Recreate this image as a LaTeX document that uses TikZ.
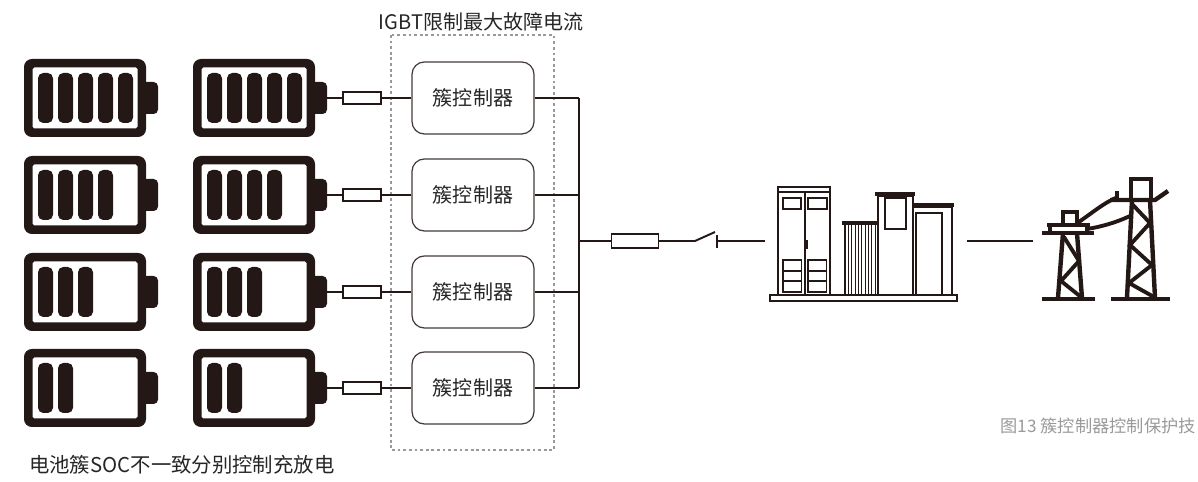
\documentclass[tikz,border=0pt]{standalone}
\usepackage{fontspec}
\setmainfont{Noto Sans CJK SC}
\definecolor{ink}{HTML}{231815}
\definecolor{capgray}{HTML}{9A9A9A}

% one battery: top-left corner x, y and number of filled cells
\newcommand{\drawbatt}[3]{%
  \fill[ink, rounded corners=4.5pt] (#1,#2) rectangle ++(122,78);
  \fill[white, rounded corners=1pt] (#1+8.5,#2+8.5) rectangle ++(105,61);
  \fill[ink, rounded corners=2.5pt] (#1+118,#2+23) rectangle ++(16,32);
  \foreach \k in {1,...,#3}
    \fill[ink, rounded corners=3pt] ({#1+14+20*(\k-1)},#2+14) rectangle ++(15,50);
}

\tikzset{
  ctrl/.style={draw=ink!85, line width=0.7pt, rounded corners=7pt,
    minimum width=2.44cm, minimum height=1.44cm, text=black!85,
    font=\fontsize{11.4}{13}\selectfont},
  fuse/.style={draw=ink, line width=0.8pt, fill=white, inner sep=0pt,
    minimum width=0.76cm, minimum height=0.24cm},
  wire/.style={draw=ink, line width=1.1pt},
  bld/.style={draw=ink, line width=0.9pt},
  twr/.style={draw=ink, line width=2.5pt},
}

\begin{document}
\begin{tikzpicture}[x=0.02cm, y=-0.02cm]
  \useasboundingbox (0,0) rectangle (1198,482);

  % batteries, two columns, fuller at the top
  \foreach \r/\y/\n in {1/98/5, 2/195/4, 3/292/3, 4/388/2} {
    \drawbatt{24}{\y-39}{\n}
    \drawbatt{193}{\y-39}{\n}
    \coordinate (bt\r) at (327,\y);
    \coordinate (j\r) at (579,\y);
    \node[fuse] (f\r) at (362,\y) {};
    \node[ctrl] (c\r) at (473,\y) {簇控制器};
  }

  % IGBT zone
  \draw[gray!80, line width=0.6pt, dash pattern=on 1.6pt off 1.6pt]
    (391,35) rectangle (554,450);
  \node[anchor=base, text=black!85, font=\fontsize{11.4}{13}\selectfont]
    (igbt) at (481,30) {IGBT限制最大故障电流};

  \foreach \r in {1,...,4}
    \draw[wire] (bt\r) -- (f\r) -- (c\r) -- (j\r);
  \draw[wire] (j1) -- (j4);

  % main fuse and breaker
  \coordinate (jm) at (579,241);
  \node[fuse, minimum width=0.94cm, minimum height=0.28cm] (fm) at (635,241) {};
  \coordinate (sw1) at (695,241);
  \coordinate (sw2) at (715,232);
  \coordinate (sw3) at (717,241);
  \coordinate (bldL) at (765,241);
  \draw[wire] (jm) -- (fm) -- (sw1) -- (sw2);
  \draw[wire] (717,235) -- (717,248);
  \draw[wire] (sw3) -- (bldL);

  % substation
  \draw[bld] (770,295) rectangle (957,301);
  \draw[bld] (778,187) rectangle (830,295);
  \draw[bld] (778,192) -- (830,192) (805,192) -- (805,295);
  \draw[bld] (783,198) rectangle (801,209) (808,198) rectangle (827,209);
  \fill[ink] (804,240) rectangle (807.5,249);
  \foreach \dx in {783,808} {
    \draw[bld] (\dx,260) rectangle ++(18.5,32);
    \draw[ink, line width=1.6pt] (\dx,271) -- ++(18.5,0) (\dx,281) -- ++(18.5,0);
  }
  \fill[ink] (842,221) rectangle (879,225);
  \draw[bld, line width=1.3pt] (845,225) -- (845,295) (878,225) -- (878,295);
  \foreach \v in {848.5,851.8,...,876}
    \draw[ink, line width=0.35pt] (\v,225) -- (\v,295);
  \fill[ink] (875,192) rectangle (915,196);
  \draw[bld] (878,196) rectangle (913,295);
  \draw[bld] (885,198) rectangle (906,229);
  \fill[ink] (912,203) rectangle (954,207);
  \draw[bld] (913,207) rectangle (952,295);
  \draw[bld] (916,213) rectangle (942,295);

  \coordinate (bldR) at (967,241);
  \coordinate (twrL) at (1033,241);
  \draw[wire] (bldR) -- (twrL);

  % pylons
  \draw[twr] (1063,225) -- (1063,212) -- (1077,212) -- (1077,225);
  \draw[twr] (1047,225) -- (1090,225);
  \draw[twr] (1042,233) -- (1094,233);
  \draw[twr] (1050,225) -- (1050,233) (1087,225) -- (1087,233);
  \draw[twr] (1063,233) -- (1058,298) (1077,233) -- (1082,298);
  \draw[twr, line width=2.2pt] (1064,237) -- (1079,261) -- (1061,281) -- (1081,297);
  \draw[twr] (1042,299) -- (1095,299);

  \draw[twr] (1131,200) -- (1131,179) -- (1151,179) -- (1151,200);
  \draw[twr] (1110,200) -- (1155,200) -- (1168,191);
  \draw[twr] (1117,201) -- (1117,191);
  \draw[twr] (1132,200) -- (1127,298) (1150,200) -- (1155,298);
  \draw[twr, line width=2.2pt] (1132,204) -- (1150,223) -- (1130,245) -- (1152,265)
    -- (1129,283) -- (1154,297);
  \draw[twr] (1111,299) -- (1170,299);

  \draw[twr, line width=2.2pt] (1076,224) .. controls (1092,213) and (1105,202) .. (1118,197);
  \draw[twr, line width=2.2pt] (1087,229) .. controls (1100,227) and (1115,223) .. (1130,216);

  % captions
  \node[anchor=base west, text=black!85, font=\fontsize{11.6}{13}\selectfont]
    (soc) at (23,473) {电池簇SOC不一致分别控制充放电};
  \node[anchor=base east, text=capgray, inner sep=0pt, font=\fontsize{9.8}{12}\selectfont]
    (fig) at (1196,433) {图13 簇控制器控制保护技};
\end{tikzpicture}
\end{document}
